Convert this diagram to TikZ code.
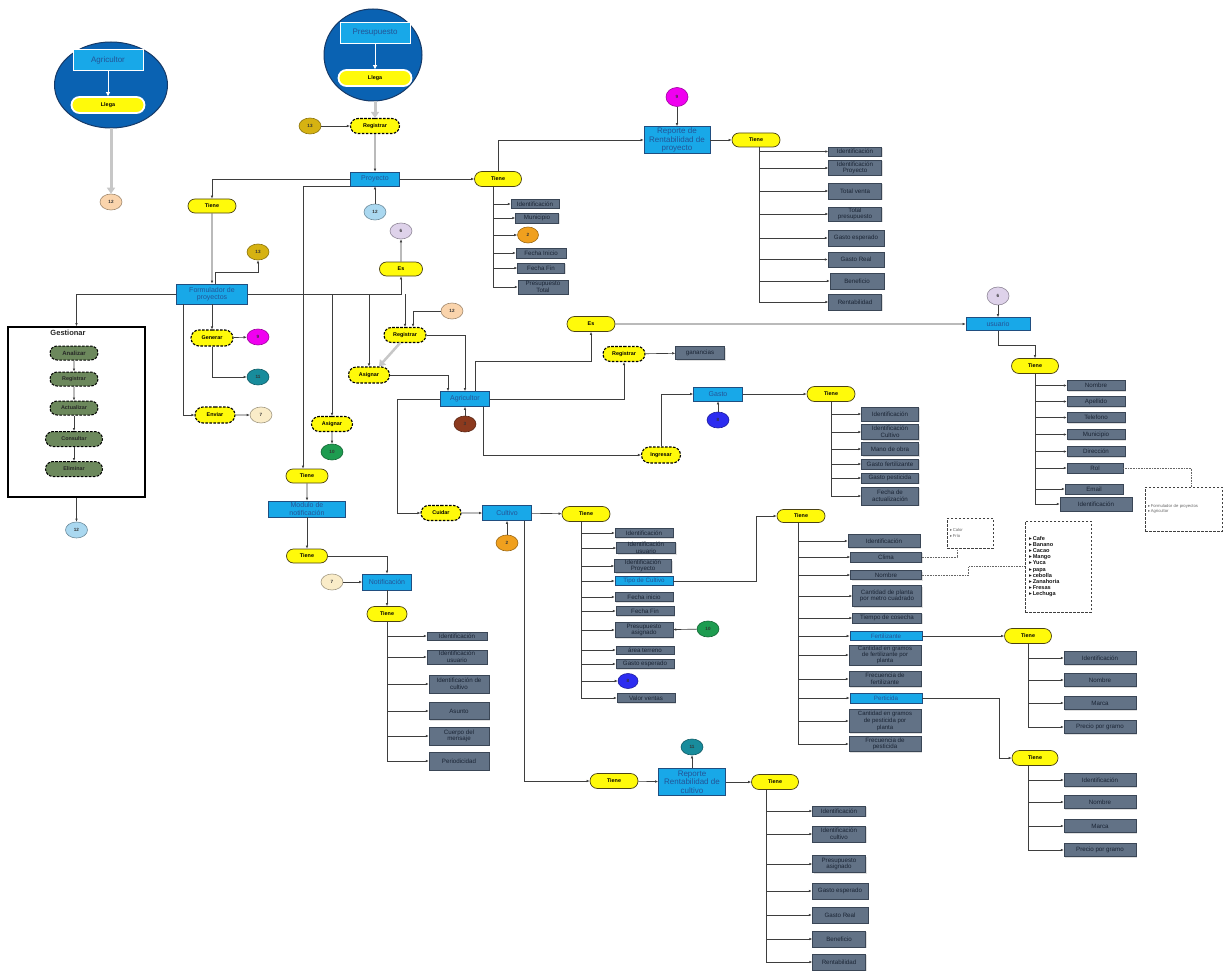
\documentclass[tikz,border=0pt]{standalone}
\usepackage{fontspec}
\setmainfont{Liberation Sans}
\newfontfamily\symfont{DejaVu Sans}
\usepackage{tikz}
\usetikzlibrary{arrows.meta, shapes.geometric, shapes.misc, shadows}

\definecolor{cyanB}{RGB}{24,168,232}
\definecolor{bluD}{RGB}{32,78,128}
\definecolor{bluT}{RGB}{36,84,150}
\definecolor{yel}{RGB}{255,250,10}
\definecolor{yelD}{RGB}{75,66,20}
\definecolor{slate}{RGB}{98,114,134}
\definecolor{slateD}{RGB}{58,70,86}
\definecolor{slateT}{RGB}{26,36,52}
\definecolor{bigB}{RGB}{10,98,178}
\definecolor{bigD}{RGB}{22,58,104}
\definecolor{olv}{RGB}{108,136,92}
\definecolor{lnc}{RGB}{62,62,62}
\definecolor{gold}{RGB}{214,178,18}
\definecolor{peach}{RGB}{250,212,172}
\definecolor{lblue}{RGB}{170,216,240}
\definecolor{lav}{RGB}{222,210,234}
\definecolor{magen}{RGB}{240,0,240}
\definecolor{teal2}{RGB}{24,140,156}
\definecolor{cream}{RGB}{250,236,200}
\definecolor{grn}{RGB}{30,156,80}
\definecolor{brwn}{RGB}{140,58,30}
\definecolor{orng}{RGB}{240,160,30}
\definecolor{blu8}{RGB}{44,44,240}

\newcommand\fatt{\fontsize{6.2}{6.6}\selectfont}
\newcommand\fpill{\fontsize{5.4}{6}\selectfont\bfseries}
\newcommand\fblu{\fontsize{7}{7.6}\selectfont}
\newcommand\frep{\fontsize{8}{8.6}\selectfont}
\newcommand\fnum{\fontsize{4.6}{5}\selectfont\bfseries}
\newcommand\bul{{\symfont ▸}\,}

\begin{document}
\begin{tikzpicture}[
  x=1pt, y=-1pt,
  ln/.style={draw=lnc, line width=0.65pt},
  arr/.style={ln, -{Latex[length=3pt,width=2.6pt]}},
  warr/.style={draw=white, line width=0.8pt, -{Triangle[length=4pt,width=4pt]}},
  garr/.style={draw=black!22, line width=3pt, -{Triangle[length=6pt,width=8pt]}},
  dot/.style={draw=black!60, line width=0.6pt, densely dotted},
  blu/.style={rectangle, fill=cyanB, draw=bluD, line width=0.7pt, text=bluT,
              font=\fblu, inner sep=0pt, align=center},
  topb/.style={blu, draw=white, line width=1pt, minimum width=70, minimum height=21,
               font=\fontsize{8}{8.6}\selectfont},
  pill/.style={rounded rectangle, fill=yel, draw=yelD, line width=0.7pt, font=\fpill,
               inner sep=0pt, minimum width=48, minimum height=14},
  dpill/.style={pill, draw=black, line width=1.1pt, dash pattern=on 2.6pt off 1.4pt},
  wpill/.style={pill, draw=white, line width=1.8pt, minimum width=73, minimum height=16},
  gpill/.style={rounded rectangle, fill=olv, draw=black, line width=1pt,
                dash pattern=on 2.6pt off 1.4pt, font=\fpill, text=black!85,
                inner sep=0pt, minimum width=48, minimum height=14},
  attr/.style={rectangle, fill=slate, draw=slateD, line width=0.5pt, text=slateT,
               font=\fatt, inner sep=0pt, align=center,
               drop shadow={shadow xshift=1pt, shadow yshift=-1pt, opacity=0.25}},
  num/.style={ellipse, fill=#1, draw=#1!65!black, line width=0.6pt, minimum width=22,
              minimum height=16, inner sep=0pt, font=\fnum, text=black!80},
  bigc/.style={ellipse, fill=bigB, draw=bigD, line width=1pt},
  gbox/.style={rectangle, draw=black, line width=1.6pt, fill=white},
  dbox/.style={rectangle, draw=black!75, line width=0.9pt, dash pattern=on 2.5pt off 1.5pt,
               fill=white, align=left, inner sep=2pt}
]
\fill[white] (0,0) rectangle (1227,971);
\useasboundingbox (0,0) rectangle (1227,971);

% entradas de arriba
\node[bigc, minimum width=113, minimum height=86] (agC) at (111,85) {};
\node[topb] (agT) at (108,60) {Agricultor};
\node[wpill] (agL) at (108,105) {Llega};
\draw[warr] (agT.south) -- (agL.north);
\node[num=peach] (n12a) at (111,202) {12};
\draw[garr] (agC.south) -- (n12a.north);

\node[bigc, minimum width=98, minimum height=92] (prC) at (373,55) {};
\node[topb] (prT) at (375,33) {Presupuesto};
\node[wpill] (prL) at (375,78) {Llega};
\draw[warr] (prT.south) -- (prL.north);

\node[num=gold] (n13a) at (310,126) {13};
\node[dpill, minimum width=49, minimum height=15] (regP) at (375,126) {Registrar};
\draw[garr] (regP.north |- prC.south) -- (regP.north);
\draw[arr] (n13a) -- (regP);
\node[blu, minimum width=49, minimum height=14] (pro) at (375,179) {Proyecto};
\draw[arr] (regP) -- (pro);
\node[num=lblue] (n12b) at (375,212) {12};
\draw[arr] (n12b) -- (pro);

% formulador
\node[pill] (tieF) at (212,206) {Tiene};
\draw[arr] (pro.west) -| (tieF.north);
\node[blu, minimum width=71, minimum height=20] (form) at (212,294) {Formulador de\\proyectos};
\draw[arr] (tieF) -- (form);
\node[num=gold] (n13b) at (258,252) {13};
\draw[arr] ([xshift=3]form.north) -- ++(0,-11) -| (n13b.south);

\node[gbox, minimum width=137, minimum height=170] (gest) at (76.5,412) {};
\node[font=\fontsize{7.5}{8}\selectfont\bfseries, text=black!85] (gestT) at (68,333) {Gestionar};
\node[gpill, font=\fontsize{6}{6.5}\selectfont\bfseries] (g1) at (74,353) {Analizar};
\node[gpill] (g2) at (74,379) {Registrar};
\node[gpill] (g3) at (74,408) {Actualizar};
\node[gpill, minimum width=57, minimum height=15] (g4) at (74,439) {Consultar};
\node[gpill, minimum width=57, minimum height=15] (g5) at (74,469) {Eliminar};
\draw[arr] (g1) -- (g2);
\draw[arr] (g2) -- (g3);
\draw[arr] (g3) -- (g4);
\draw[arr] (g4) -- (g5);
\draw[arr] (form.west) -| (gest.north);
\node[num=lblue] (n12d) at (76.5,530) {12};
\draw[arr] (gest.south) -- (n12d);

\node[dpill, minimum width=42, minimum height=16] (gen) at (212,338) {Generar};
\draw[arr] (form) -- (gen);
\node[num=magen] (n9b) at (258,337) {9};
\draw[arr] (gen) -- (n9b);
\node[num=teal2] (n11a) at (258,377) {11};
\draw[arr] (gen.south) |- (n11a.west);
\node[dpill, minimum width=40, minimum height=16] (env) at (215,415) {Enviar};
\draw[arr] ([xshift=-29]form.south) |- (env.west);
\node[num=cream] (n7a) at (261,415) {7};
\draw[arr] (env) -- (n7a);

\node[pill, minimum width=43] (es1) at (401,269) {Es};
\node[num=lav] (n6a) at (401,231) {6};
\draw[arr] (es1) -- (n6a);
\draw[arr] (form.east) -| (es1.south);

\node[dpill, minimum width=41, minimum height=15] (asg2) at (332,424) {Asignar};
\node[num=grn] (n10a) at (332,452) {10};
\draw[arr] (asg2) -- (n10a);
\draw[arr] (form.east -| asg2.north) -- (asg2.north);
\node[dpill, minimum width=41, minimum height=16] (asg1) at (369,375) {Asignar};
\draw[arr] (form.east -| asg1.north) -- (asg1.north);
\node[dpill, minimum width=42, minimum height=15] (reg2) at (405,335) {Registrar};
\draw[arr] (form.east -| reg2.north) -- (reg2.north);
\node[num=peach] (n12c) at (452,311) {12};
\draw[arr] (n12c.west) -| ([xshift=8]reg2.north);

% agricultor
\node[blu, minimum width=49, minimum height=15] (agr) at (465,399) {Agricultor};
\draw[arr] (asg1.east) -| ([xshift=-17]agr.north);
\draw[arr] (reg2.east) -| (agr.north);
\draw[garr, line width=2.5pt] ([xshift=-5]reg2.south) -- ([xshift=10]asg1.north);
\node[num=brwn] (n3) at (465,424) {3};
\draw[arr] (n3) -- (agr);

% modulo de notificacion
\node[pill, minimum width=42] (tieM) at (307,476) {Tiene};
\draw[arr] (pro.south west) -| ([xshift=-4]tieM.north);
\node[blu, minimum width=77, minimum height=16] (modu) at (307,509) {Modulo de\\notificación};
\draw[arr] (tieM) -- (modu);
\node[pill, minimum width=41] (tieN) at (307,556) {Tiene};
\draw[arr] (modu) -- (tieN);
\node[blu, minimum width=49, minimum height=16] (notif) at (387,582) {Notificación};
\draw[arr] (tieN.east) -| (notif.north);
\node[num=cream] (n7b) at (332,582) {7};
\draw[arr] (n7b) -- (notif);
\node[pill, minimum width=40, minimum height=15] (tieN2) at (387,614) {Tiene};
\draw[arr] (notif) -- (tieN2);
\node[attr, minimum width=60, minimum height=8] (nt1) at (457,636) {Identificación};
\node[attr, minimum width=60, minimum height=14] (nt2) at (457,657) {Identificación\\usuario};
\node[attr, minimum width=60, minimum height=18] (nt3) at (459,684) {Identificación de\\cultivo};
\node[attr, minimum width=60, minimum height=17] (nt4) at (459,711) {Asunto};
\node[attr, minimum width=60, minimum height=18] (nt5) at (459,736) {Cuerpo del\\mensaje};
\node[attr, minimum width=60, minimum height=18] (nt6) at (459,761) {Periodicidad};
\draw[arr] (tieN2.south) |- (nt1.west);
\draw[arr] (tieN2.south) |- (nt2.west);
\draw[arr] (tieN2.south) |- (nt3.west);
\draw[arr] (tieN2.south) |- (nt4.west);
\draw[arr] (tieN2.south) |- (nt5.west);
\draw[arr] (tieN2.south) |- (nt6.west);

% proyecto: atributos y reporte
\node[pill, minimum width=47, minimum height=15] (tieP) at (498,179) {Tiene};
\draw[arr] (pro) -- (tieP);
\node[attr, minimum width=48, minimum height=9] (pa1) at (535,204) {Identificación};
\node[attr, minimum width=43, minimum height=10] (pa2) at (537,218) {Municipio};
\node[num=orng, minimum width=21] (n2a) at (528,235) {2};
\node[attr, minimum width=50, minimum height=10] (pa3) at (541,253) {Fecha Inicio};
\node[attr, minimum width=47, minimum height=10] (pa4) at (541,268) {Fecha Fin};
\node[attr, minimum width=50, minimum height=14] (pa5) at (543,287) {Presupuesto\\Total};
\draw[arr] ([xshift=-5]tieP.south) |- (pa1.west);
\draw[arr] ([xshift=-5]tieP.south) |- (pa2.west);
\draw[arr] ([xshift=-5]tieP.south) |- (n2a.west);
\draw[arr] ([xshift=-5]tieP.south) |- (pa3.west);
\draw[arr] ([xshift=-5]tieP.south) |- (pa4.west);
\draw[arr] ([xshift=-5]tieP.south) |- (pa5.west);

\node[blu, minimum width=66, minimum height=27, font=\frep] (repP) at (677,140) {Reporte de\\Rentabilidad de\\proyecto};
\draw[arr] (tieP.north) |- (repP.west);
\node[num=magen, minimum height=19] (n9a) at (677,97) {9};
\draw[arr] (n9a) -- (repP);
\node[pill, minimum width=48] (tieRP) at (756,140) {Tiene};
\draw[arr] (repP) -- (tieRP);
\node[attr, minimum width=53, minimum height=9] (rp1) at (855,151.5) {Identificación};
\node[attr, minimum width=53, minimum height=15] (rp2) at (855,168) {Identificación\\Proyecto};
\node[attr, minimum width=53, minimum height=16] (rp3) at (855,191) {Total venta};
\node[attr, minimum width=53, minimum height=14] (rp4) at (855,214) {Total\\presupuesto};
\node[attr, minimum width=56, minimum height=16] (rp5) at (856,238) {Gasto esperado};
\node[attr, minimum width=56, minimum height=15] (rp6) at (856,259.5) {Gasto Real};
\node[attr, minimum width=54, minimum height=16] (rp7) at (857,281) {Beneficio};
\node[attr, minimum width=53, minimum height=16] (rp8) at (855,302) {Rentabilidad};
\draw[arr] ([xshift=3]tieRP.south) |- (rp1.west);
\draw[arr] ([xshift=3]tieRP.south) |- (rp2.west);
\draw[arr] ([xshift=3]tieRP.south) |- (rp3.west);
\draw[arr] ([xshift=3]tieRP.south) |- (rp4.west);
\draw[arr] ([xshift=3]tieRP.south) |- (rp5.west);
\draw[arr] ([xshift=3]tieRP.south) |- (rp6.west);
\draw[arr] ([xshift=3]tieRP.south) |- (rp7.west);
\draw[arr] ([xshift=3]tieRP.south) |- (rp8.west);

% usuario
\node[pill, minimum width=48, minimum height=15] (es2) at (591,324) {Es};
\draw[arr] ([xshift=10]agr.north) -- ++(0,-30) -| (es2.south);
\node[blu, minimum width=64, minimum height=13] (usu) at (998,324) {usuario};
\draw[arr] (es2) -- (usu);
\node[num=lav, minimum height=18] (n6b) at (998,296) {6};
\draw[arr] (n6b) -- (usu);
\node[pill, minimum width=47, minimum height=15] (tieU) at (1035,366) {Tiene};
\draw[arr] (usu.south) -- ++(0,14) -| (tieU.north);
\node[attr, minimum width=58, minimum height=10] (us1) at (1096,385.5) {Nombre};
\node[attr, minimum width=58, minimum height=10] (us2) at (1096,401.5) {Apellido};
\node[attr, minimum width=58, minimum height=10] (us3) at (1096,417.5) {Telefono};
\node[attr, minimum width=58, minimum height=10] (us4) at (1096,434.5) {Municipio};
\node[attr, minimum width=58, minimum height=10] (us5) at (1096,451.5) {Dirección};
\node[attr, minimum width=56, minimum height=10] (us6) at (1095,468) {Rol};
\node[attr, minimum width=58, minimum height=10] (us7) at (1094,489) {Email};
\node[attr, minimum width=72, minimum height=14] (us8) at (1096,504) {Identificación};
\draw[arr] (tieU.south) |- (us1.west);
\draw[arr] (tieU.south) |- (us2.west);
\draw[arr] (tieU.south) |- (us3.west);
\draw[arr] (tieU.south) |- (us4.west);
\draw[arr] (tieU.south) |- (us5.west);
\draw[arr] (tieU.south) |- (us6.west);
\draw[arr] (tieU.south) |- (us7.west);
\draw[arr] (tieU.south) |- (us8.west);
\node[dbox, minimum width=77, minimum height=44, text width=71,
      font=\fontsize{4.2}{5}\selectfont, text=black!60] (rolB) at (1183.5,509)
  {\bul Formulador de proyectos\\\bul Agricultor};
\draw[dot] (us6.east) -| ([xshift=8]rolB.north);

% ganancias y gasto
\node[dpill, minimum width=42, minimum height=15] (reg3) at (624,354) {Registrar};
\draw[arr] (agr.east) -| (reg3.south);
\node[attr, minimum width=49, minimum height=13] (gan) at (700,353) {ganancias};
\draw[arr] (reg3) -- (gan);
\node[dpill, minimum width=39, minimum height=16] (ingr) at (661,455) {Ingresar};
\draw[arr] ([xshift=18]agr.south) |- (ingr.west);
\node[blu, minimum width=49, minimum height=14] (gasto) at (718,394) {Gasto};
\draw[arr] (ingr.north) |- (gasto.west);
\node[num=blu8] (n8a) at (718,420) {8};
\draw[arr] (n8a) -- (gasto);
\node[pill, minimum width=48, minimum height=15] (tieG) at (831,394) {Tiene};
\draw[arr] (gasto) -- (tieG);
\node[attr, minimum width=57, minimum height=14] (ga1) at (890,414) {Identificación};
\node[attr, minimum width=57, minimum height=15] (ga2) at (890,432) {Identificación\\Cultivo};
\node[attr, minimum width=57, minimum height=13] (ga3) at (890,449) {Mano de obra};
\node[attr, minimum width=57, minimum height=10] (ga4) at (890,464) {Gasto fertilizante};
\node[attr, minimum width=57, minimum height=10] (ga5) at (890,478) {Gasto pesticida};
\node[attr, minimum width=57, minimum height=18] (ga6) at (890,496) {Fecha de\\actualización};
\draw[arr] (tieG.south) |- (ga1.west);
\draw[arr] (tieG.south) |- (ga2.west);
\draw[arr] (tieG.south) |- (ga3.west);
\draw[arr] (tieG.south) |- (ga4.west);
\draw[arr] (tieG.south) |- (ga5.west);
\draw[arr] (tieG.south) |- (ga6.west);

% cultivo
\node[dpill, minimum width=40, minimum height=15] (cuid) at (441,513) {Cuidar};
\draw[arr] (agr.west) -- ++(-43,0) |- (cuid.west);
\node[blu, minimum width=49, minimum height=15] (cult) at (507,513) {Cultivo};
\draw[arr] (cuid) -- (cult);
\node[num=orng] (n2b) at (507,543) {2};
\draw[arr] (n2b) -- (cult);
\node[pill, minimum width=48, minimum height=15] (tieC) at (586,514) {Tiene};
\draw[arr] (cult) -- (tieC);
\node[attr, minimum width=58, minimum height=9] (cu1) at (644,533) {Identificación};
\node[attr, minimum width=59, minimum height=11] (cu2) at (646,548) {Identificación\\usuario};
\node[attr, minimum width=57, minimum height=13] (cu3) at (643,566) {Identificación\\Proyecto};
\node[blu, minimum width=58, minimum height=9, font=\fatt] (cu4) at (644,581) {Tipo de Cultivo};
\node[attr, minimum width=58, minimum height=9] (cu5) at (644,597) {Fecha inicio};
\node[attr, minimum width=58, minimum height=9] (cu6) at (645,611) {Fecha Fin};
\node[attr, minimum width=58, minimum height=15] (cu7) at (644,630) {Presupuesto\\asignado};
\node[attr, minimum width=58, minimum height=8] (cu8) at (645,650) {área terreno};
\node[attr, minimum width=58, minimum height=9] (cu9) at (645,664) {Gasto esperado};
\node[num=blu8, minimum width=20, minimum height=15] (n8b) at (628,681) {8};
\node[attr, minimum width=58, minimum height=9] (cu10) at (646,698) {Valor ventas};
\draw[arr] ([xshift=-5]tieC.south) |- (cu1.west);
\draw[arr] ([xshift=-5]tieC.south) |- (cu2.west);
\draw[arr] ([xshift=-5]tieC.south) |- (cu3.west);
\draw[arr] ([xshift=-5]tieC.south) |- (cu4.west);
\draw[arr] ([xshift=-5]tieC.south) |- (cu5.west);
\draw[arr] ([xshift=-5]tieC.south) |- (cu6.west);
\draw[arr] ([xshift=-5]tieC.south) |- (cu7.west);
\draw[arr] ([xshift=-5]tieC.south) |- (cu8.west);
\draw[arr] ([xshift=-5]tieC.south) |- (cu9.west);
\draw[arr] ([xshift=-5]tieC.south) |- (n8b.west);
\draw[arr] ([xshift=-5]tieC.south) |- (cu10.west);
\node[num=grn] (n10b) at (708,629) {10};
\draw[arr] (n10b) -- (cu7);

% tipo de cultivo
\node[pill, minimum width=48, minimum height=13] (tieT) at (801,516) {Tiene};
\draw[arr] (cu4.east) -- ++(83,0) |- (tieT.west);
\node[attr, minimum width=72, minimum height=13] (tc1) at (884,541) {Identificación};
\node[attr, minimum width=71, minimum height=10] (tc2) at (886,557) {Clima};
\node[attr, minimum width=71, minimum height=9] (tc3) at (886,575) {Nombre};
\node[attr, minimum width=69, minimum height=21] (tc4) at (887,596) {Cantidad de planta\\por metro cuadrado};
\node[attr, minimum width=69, minimum height=10] (tc5) at (887,618) {Tiempo de cosecha};
\node[blu, minimum width=72, minimum height=9, font=\fatt] (tc6) at (886,636) {Fertilizante};
\node[attr, minimum width=72, minimum height=20, font=\fontsize{6}{6.3}\selectfont] (tc7) at (885,655) {Cantidad en gramos\\de fertilizante por\\planta};
\node[attr, minimum width=72, minimum height=15] (tc8) at (885,679) {Frecuencia de\\fertilizante};
\node[blu, minimum width=72, minimum height=10, font=\fatt] (tc9) at (886,698) {Perticida};
\node[attr, minimum width=72, minimum height=23, font=\fontsize{6}{6.6}\selectfont] (tc10) at (885,721) {Cantidad en gramos\\de pesticida por\\planta};
\node[attr, minimum width=72, minimum height=15] (tc11) at (885,744) {Frecuencia de\\pesticida};
\draw[arr] ([xshift=-3]tieT.south) |- (tc1.west);
\draw[arr] ([xshift=-3]tieT.south) |- (tc2.west);
\draw[arr] ([xshift=-3]tieT.south) |- (tc3.west);
\draw[arr] ([xshift=-3]tieT.south) |- (tc4.west);
\draw[arr] ([xshift=-3]tieT.south) |- (tc5.west);
\draw[arr] ([xshift=-3]tieT.south) |- (tc6.west);
\draw[arr] ([xshift=-3]tieT.south) |- (tc7.west);
\draw[arr] ([xshift=-3]tieT.south) |- (tc8.west);
\draw[arr] ([xshift=-3]tieT.south) |- (tc9.west);
\draw[arr] ([xshift=-3]tieT.south) |- (tc10.west);
\draw[arr] ([xshift=-3]tieT.south) |- (tc11.west);

\node[dbox, minimum width=46, minimum height=30, text width=40,
      font=\fontsize{4.2}{5.2}\selectfont, text=black!60] (cfB) at (970,533)
  {\bul Calor\\\bul Frío};
\draw[dot] (tc2.east) -| ([xshift=-13]cfB.south);
\node[dbox, minimum width=66, minimum height=91, text width=58,
      font=\fontsize{5.6}{6.2}\selectfont\bfseries, text=black!90] (frB) at (1058,566.5)
  {\bul Cafe\\\bul Banano\\\bul Cacao\\\bul Mango\\\bul Yuca\\\bul papa\\\bul cebolla\\\bul Zanahoria\\\bul Fresas\\\bul Lechuga};
\draw[dot] (tc3.east) -- ++(47,0) |- (frB.west);

\node[pill, minimum width=47, minimum height=15] (tieF2) at (1028,636) {Tiene};
\draw[arr] (tc6.east) -- (tieF2.west);
\node[attr, minimum width=72, minimum height=13] (fe1) at (1100,658) {Identificación};
\node[attr, minimum width=72, minimum height=13] (fe2) at (1100,680) {Nombre};
\node[attr, minimum width=72, minimum height=13] (fe3) at (1100,703) {Marca};
\node[attr, minimum width=72, minimum height=13] (fe4) at (1100,727) {Precio por gramo};
\draw[arr] (tieF2.south) |- (fe1.west);
\draw[arr] (tieF2.south) |- (fe2.west);
\draw[arr] (tieF2.south) |- (fe3.west);
\draw[arr] (tieF2.south) |- (fe4.west);

\node[pill, minimum width=46, minimum height=15] (tieP2) at (1035,758) {Tiene};
\draw[arr] (tc9.east) -- ++(77,0) |- (tieP2.west);
\node[attr, minimum width=72, minimum height=13] (pe1) at (1100,780) {Identificación};
\node[attr, minimum width=72, minimum height=13] (pe2) at (1100,802) {Nombre};
\node[attr, minimum width=72, minimum height=13] (pe3) at (1100,826) {Marca};
\node[attr, minimum width=72, minimum height=13] (pe4) at (1100,850) {Precio por gramo};
\draw[arr] ([xshift=-7]tieP2.south) |- (pe1.west);
\draw[arr] ([xshift=-7]tieP2.south) |- (pe2.west);
\draw[arr] ([xshift=-7]tieP2.south) |- (pe3.west);
\draw[arr] ([xshift=-7]tieP2.south) |- (pe4.west);

% reporte de cultivo
\node[pill, minimum width=48, minimum height=15] (tieR) at (614,781) {Tiene};
\draw[arr] ([xshift=17]cult.south) |- (tieR.west);
\node[blu, minimum width=67, minimum height=27, font=\frep] (repC) at (692,782) {Reporte\\Rentabilidad de\\cultivo};
\draw[arr] (tieR) -- (repC);
\node[num=teal2] (n11b) at (692,747) {11};
\draw[arr] (repC) -- (n11b);
\node[pill, minimum width=47, minimum height=15] (tieRC) at (775,782) {Tiene};
\draw[arr] (repC) -- (tieRC);
\node[attr, minimum width=53, minimum height=10] (rc1) at (839,811) {Identificación};
\node[attr, minimum width=53, minimum height=16] (rc2) at (839,834) {Identificación\\cultivo};
\node[attr, minimum width=53, minimum height=17] (rc3) at (839,864) {Presupuesto\\asignado};
\node[attr, minimum width=56, minimum height=16] (rc4) at (840,891) {Gasto esperado};
\node[attr, minimum width=56, minimum height=16] (rc5) at (840,915) {Gasto Real};
\node[attr, minimum width=53, minimum height=16] (rc6) at (839,939) {Beneficio};
\node[attr, minimum width=53, minimum height=16] (rc7) at (839,962) {Rentabilidad};
\draw[arr] ([xshift=-9]tieRC.south) |- (rc1.west);
\draw[arr] ([xshift=-9]tieRC.south) |- (rc2.west);
\draw[arr] ([xshift=-9]tieRC.south) |- (rc3.west);
\draw[arr] ([xshift=-9]tieRC.south) |- (rc4.west);
\draw[arr] ([xshift=-9]tieRC.south) |- (rc5.west);
\draw[arr] ([xshift=-9]tieRC.south) |- (rc6.west);
\draw[arr] ([xshift=-9]tieRC.south) |- (rc7.west);
\end{tikzpicture}
\end{document}
